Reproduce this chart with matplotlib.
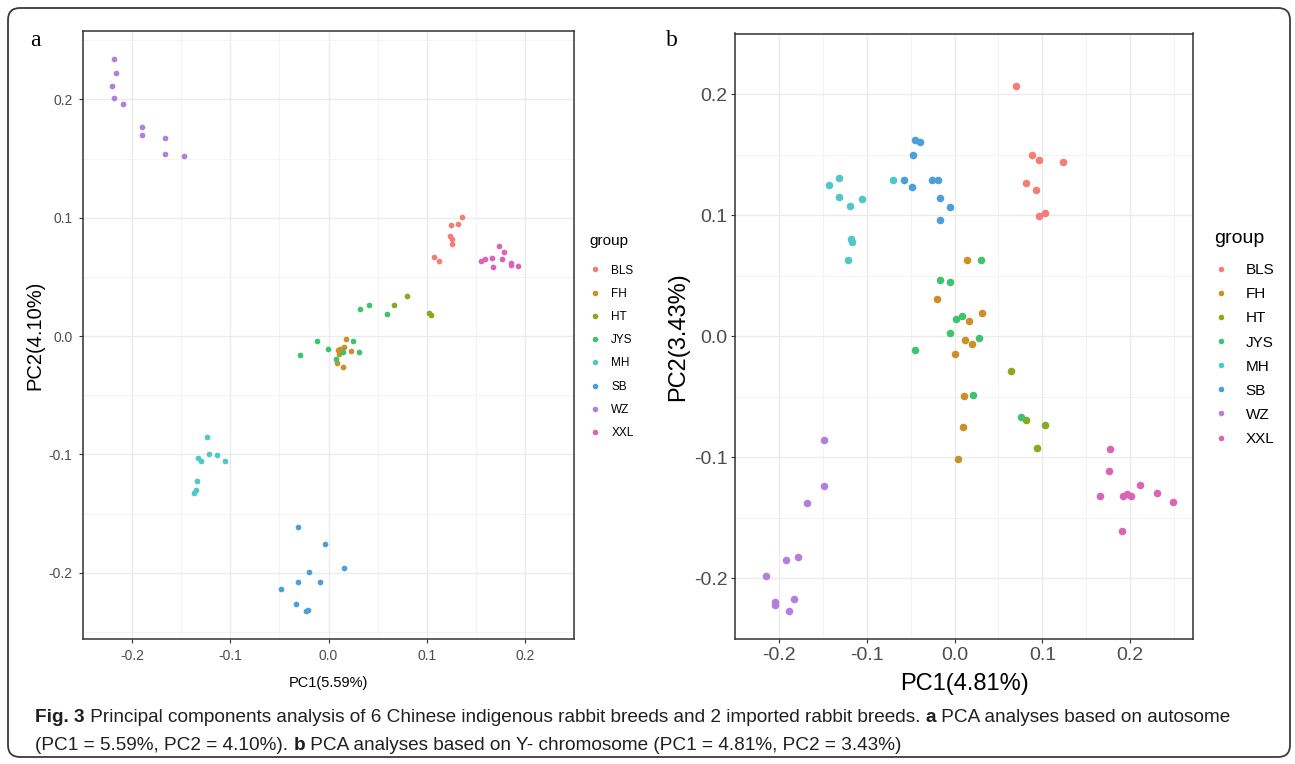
#!/usr/bin/env python3
"""PCA of rabbit breeds: (a) autosome and (b) Y chromosome, ggplot-like style."""

import matplotlib

matplotlib.use("Agg")
import matplotlib.pyplot as plt
from matplotlib.lines import Line2D
from matplotlib.patches import FancyBboxPatch
from matplotlib.transforms import IdentityTransform
import numpy as np


GROUPS = ["BLS", "FH", "HT", "JYS", "MH", "SB", "WZ", "XXL"]
COLORS = ["#F37E77", "#CB9128", "#86AB1F", "#40C36E",
          "#50C8C8", "#4D9FD9", "#B47FDC", "#DC64B8"]

# (a) autosome: (PC1, PC2) per sample
A_BLS = [(0.136, 0.101), (0.132, 0.0945), (0.125, 0.0934), (0.1234, 0.0844),
         (0.1253, 0.0816), (0.1256, 0.0776), (0.1074, 0.0667), (0.113, 0.0633)]
A_FH = [(0.0176, -0.0028), (0.0096, -0.0115), (0.0117, -0.011), (0.016, -0.0093),
        (0.0231, -0.0127), (0.0105, -0.0155), (0.0086, -0.0228), (0.0151, -0.0259)]
A_HT = [(0.080, 0.034), (0.067, 0.026), (0.102, 0.0197), (0.1046, 0.0175)]
A_JYS = [(0.0596, 0.0183), (0.0318, 0.0228), (0.0417, 0.0264), (-0.0117, -0.004),
         (-0.0003, -0.0107), (-0.0294, -0.016), (0.0253, -0.0042), (0.0151, -0.0132),
         (0.0312, -0.0138), (0.0074, -0.0197)]
A_MH = [(-0.124, -0.0852), (-0.1216, -0.0996), (-0.1136, -0.1004), (-0.1053, -0.1055),
        (-0.1327, -0.1035), (-0.130, -0.106), (-0.1343, -0.1224), (-0.1349, -0.1305),
        (-0.137, -0.1325)]
A_SB = [(-0.0308, -0.1612), (-0.0034, -0.1758), (0.0154, -0.196), (-0.0194, -0.1992),
        (-0.0306, -0.2079), (-0.009, -0.2082), (-0.0481, -0.2135), (-0.0327, -0.2267),
        (-0.0225, -0.2327), (-0.021, -0.2315)]
A_WZ = [(-0.218, 0.234), (-0.216, 0.222), (-0.220, 0.211), (-0.218, 0.201),
        (-0.209, 0.196), (-0.190, 0.177), (-0.190, 0.170), (-0.166, 0.167),
        (-0.166, 0.154), (-0.147, 0.152)]
A_XXL = [(0.1734, 0.0762), (0.179, 0.0709), (0.155, 0.0635), (0.159, 0.065),
         (0.167, 0.066), (0.168, 0.0585), (0.1766, 0.065), (0.186, 0.062),
         (0.186, 0.060), (0.193, 0.059)]

# (b) Y chromosome
B_BLS = [(0.0704, 0.207), (0.0882, 0.150), (0.096, 0.1454), (0.1238, 0.1438),
         (0.0812, 0.1268), (0.0923, 0.1205), (0.0964, 0.099), (0.1027, 0.1018)]
B_FH = [(0.0137, 0.0628), (-0.0204, 0.0307), (0.0311, 0.0191), (0.0170, 0.0124),
        (0.0115, -0.0031), (0.020, -0.0061), (0.0008, -0.0144), (0.0104, -0.0496),
        (0.010, -0.0748), (0.0044, -0.1013)]
B_HT = [(0.0638, -0.0286), (0.0812, -0.0693), (0.1034, -0.0735), (0.0934, -0.0924)]
B_JYS = [(0.0297, 0.0628), (-0.0163, 0.0467), (-0.0052, 0.0449), (0.0089, 0.0171),
         (0.0015, 0.0142), (-0.0052, 0.0026), (0.0275, -0.0016), (-0.0448, -0.011),
         (0.0208, -0.0486), (0.0753, -0.0667)]
B_MH = [(-0.1435, 0.1247), (-0.1316, 0.1304), (-0.1313, 0.1152), (-0.1187, 0.1076),
        (-0.1053, 0.1136), (-0.0704, 0.129), (-0.118, 0.0803), (-0.1168, 0.078),
        (-0.1212, 0.063)]
B_SB = [(-0.0445, 0.1622), (-0.0389, 0.1601), (-0.047, 0.1498), (-0.057, 0.1294),
        (-0.0486, 0.1236), (-0.0256, 0.1289), (-0.0189, 0.1294), (-0.0167, 0.1139),
        (-0.0048, 0.1066), (-0.0167, 0.0961)]
B_WZ = [(-0.1483, -0.0853), (-0.149, -0.1236), (-0.1676, -0.1378), (-0.1783, -0.1824),
        (-0.1921, -0.185), (-0.2147, -0.1982), (-0.2039, -0.2197), (-0.2047, -0.222),
        (-0.1828, -0.2173), (-0.188, -0.2265)]
B_XXL = [(0.1776, -0.0927), (0.1757, -0.1113), (0.2117, -0.1226), (0.1661, -0.1318),
         (0.1913, -0.1323), (0.1969, -0.1302), (0.2013, -0.1323), (0.231, -0.1294),
         (0.2484, -0.1372), (0.1902, -0.1612)]

PANEL_A = [A_BLS, A_FH, A_HT, A_JYS, A_MH, A_SB, A_WZ, A_XXL]
PANEL_B = [B_BLS, B_FH, B_HT, B_JYS, B_MH, B_SB, B_WZ, B_XXL]

CAPTION_1 = [
    ("Fig. 3", "bold"),
    (" Principal components analysis of 6 Chinese indigenous rabbit breeds "
     "and 2 imported rabbit breeds. ", "normal"),
    ("a", "bold"),
    (" PCA analyses based on autosome", "normal"),
]
CAPTION_2 = [
    ("(PC1 = 5.59%, PC2 = 4.10%). ", "normal"),
    ("b", "bold"),
    (" PCA analyses based on Y- chromosome (PC1 = 4.81%, PC2 = 3.43%)", "normal"),
]

W, H = 1295, 764
SANS = ["Liberation Sans", "DejaVu Sans"]
NARROW = ["Liberation Sans Narrow", "Liberation Sans", "DejaVu Sans"]


def frac(left, top, right, bottom):
  return [left / W, 1 - bottom / H, (right - left) / W, (bottom - top) / H]


def padded(values):
  lo, hi = min(values), max(values)
  pad = 0.05 * (hi - lo)
  return lo - pad, hi + pad


def draw_panel(fig, rect, panel, tick_size, xtitle_size, ytitle_size, dot,
               xlabel, ylabel, legend_at, legend_size, legend_title_size,
               handletextpad, labelspacing, xpad=4, tickpad=2.5):
  ax = fig.add_axes(rect)
  handles = []
  xs_all, ys_all = [], []
  for name, color, pts in zip(GROUPS, COLORS, panel):
    pts = np.asarray(pts)
    xs_all.extend(pts[:, 0])
    ys_all.extend(pts[:, 1])
    ax.scatter(pts[:, 0], pts[:, 1], s=dot, color=color, linewidths=0, zorder=3)
    handles.append(Line2D([], [], marker="o", linestyle="", markersize=4,
                          markeredgewidth=0, color=color, label=name))
  ax.set_xlim(*padded(xs_all))
  ax.set_ylim(*padded(ys_all))
  ticks = [-0.2, -0.1, 0.0, 0.1, 0.2]
  labels = ["-0.2", "-0.1", "0.0", "0.1", "0.2"]
  ax.set_xticks(ticks)
  ax.set_yticks(ticks)
  ax.set_xticks(np.arange(-0.25, 0.3, 0.05), minor=True)
  ax.set_yticks(np.arange(-0.25, 0.3, 0.05), minor=True)
  ax.set_xticklabels(labels)
  ax.set_yticklabels(labels)
  ax.grid(which="major", color="#EBEBEB", linewidth=1.0, zorder=0)
  ax.grid(which="minor", color="#F2F2F2", linewidth=0.6, zorder=0)
  ax.set_axisbelow(True)
  for side in ax.spines.values():
    side.set_color("#333333")
    side.set_linewidth(1.1)
  ax.tick_params(which="major", length=3, width=0.8, color="#333333",
                 labelsize=tick_size, labelcolor="#4D4D4D", pad=tickpad)
  ax.tick_params(which="minor", length=0)
  for lab in ax.get_xticklabels() + ax.get_yticklabels():
    lab.set_family(SANS)
  ax.set_xlabel(xlabel, fontsize=xtitle_size, family=SANS, color="black", labelpad=xpad)
  ax.set_ylabel(ylabel, fontsize=ytitle_size, family=SANS, color="black", labelpad=3)
  leg = ax.legend(handles=handles, title="group", loc="upper left",
                  bbox_to_anchor=(legend_at[0] / W, 1 - legend_at[1] / H),
                  bbox_transform=fig.transFigure, frameon=False, borderpad=0,
                  alignment="left", handlelength=1.0, handletextpad=handletextpad,
                  labelspacing=labelspacing,
                  prop={"family": SANS, "size": legend_size},
                  title_fontproperties={"family": SANS, "size": legend_title_size})
  leg._legend_box.sep = 12
  return ax


def place_caption(fig, lines, left, tops, target_width):
  renderer = fig.canvas.get_renderer()

  def line_width(segments, size):
    total = 0.0
    for text, weight in segments:
      t = fig.text(0, 0, text, fontsize=size, weight=weight, family=NARROW)
      total += t.get_window_extent(renderer).width
      t.remove()
    return total

  size = 12.0
  size *= target_width / line_width(lines[0], size)
  for segments, y in zip(lines, tops):
    x = left
    for text, weight in segments:
      t = fig.text(x / W, 1 - y / H, text, fontsize=size, weight=weight,
                   family=NARROW, color="#231F20", va="center", ha="left")
      x += t.get_window_extent(renderer).width


def main():
  fig = plt.figure(figsize=(W / 100, H / 100), dpi=100)

  fig.add_artist(FancyBboxPatch(
      (8, 7), 1282, 749, boxstyle="round,pad=0,rounding_size=12",
      transform=IdentityTransform(), facecolor="none",
      edgecolor="#3A3A3A", linewidth=1.3))

  draw_panel(fig, frac(83, 31.5, 574, 639), PANEL_A, 10, 10.5, 14.5, 17,
             "PC1(5.59%)", "PC2(4.10%)", (583, 228), 8.5, 11, 0.9, 0.95,
             xpad=9, tickpad=4.5)
  draw_panel(fig, frac(735, 33.5, 1193, 639), PANEL_B, 14, 17, 17, 30,
             "PC1(4.81%)", "PC2(3.43%)", (1206, 222), 11, 14, 1.1, 0.66, xpad=7)

  serif = ["Liberation Serif", "DejaVu Serif"]
  fig.text(35 / W, 1 - 40 / H, "a", fontsize=17, family=serif, va="center", ha="center")
  fig.text(672 / W, 1 - 40 / H, "b", fontsize=17, family=serif, va="center", ha="center")

  place_caption(fig, [CAPTION_1, CAPTION_2], 35, [718, 745], 1203)

  fig.savefig("out.png", dpi=100)
  plt.close(fig)


if __name__ == "__main__":
  main()
